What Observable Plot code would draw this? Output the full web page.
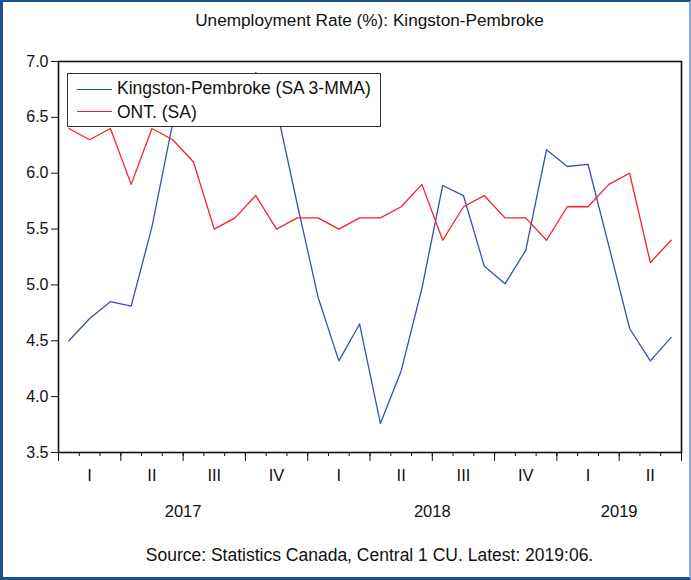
<!DOCTYPE html>
<html>
<head>
<meta charset="utf-8">
<script src="https://cdn.jsdelivr.net/npm/d3@7"></script>
<script src="https://cdn.jsdelivr.net/npm/@observablehq/plot@0.6"></script>
<style>
  html, body { margin: 0; padding: 0; background: #fff; }
  #wrap { position: relative; width: 691px; height: 580px; overflow: hidden; font-family: "Liberation Sans", Arial, sans-serif; color: #111; }
  #chart { position: absolute; left: 0; top: 0; }
  #border { position: absolute; left: 0; top: 0; width: 691px; height: 580px; box-sizing: border-box;
    border-left: 3px solid #1f4e8f; border-top: 2px solid #1f4e8f; border-bottom: 3px solid #1f4e8f; border-right: 2px solid #8fa9d0; pointer-events: none; }
  .title { position: absolute; left: 58px; width: 623px; text-align: center; font-size: 17.2px; line-height: 20px; white-space: nowrap; }
  #legend { position: absolute; left: 67px; top: 73px; width: 314px; height: 54px; box-sizing: border-box; border: 1.5px solid #333; background: #fff; }
  .sw { position: absolute; left: 9px; width: 35px; height: 0; border-top: 1.3px solid; }
  .lt { position: absolute; left: 49px; font-size: 17.5px; line-height: 20px; white-space: nowrap; }
</style>
</head>
<body>
<div id="wrap">
  <div id="chart"></div>
  <div class="title" id="title" style="top:10px"></div>
  <div class="title" id="caption" style="top:545px; font-size:17.5px"></div>
  <div id="legend"></div>
  <div id="border"></div>
</div>
<script>
const titleText = "Unemployment Rate (%): Kingston-Pembroke";
const captionText = "Source: Statistics Canada, Central 1 CU. Latest: 2019:06.";
const seriesNames = ["Kingston-Pembroke (SA 3-MMA)", "ONT. (SA)"];
const seriesColors = ["#3553ad", "#f5222a"];

const months = ["2017-01","2017-02","2017-03","2017-04","2017-05","2017-06","2017-07","2017-08","2017-09","2017-10","2017-11","2017-12",
                "2018-01","2018-02","2018-03","2018-04","2018-05","2018-06","2018-07","2018-08","2018-09","2018-10","2018-11","2018-12",
                "2019-01","2019-02","2019-03","2019-04","2019-05","2019-06"];
const kingston = [4.50, 4.70, 4.85, 4.81, 5.52, 6.45, 6.60, 6.70, 6.60, 6.90, 6.58, 5.72,
                  4.89, 4.32, 4.65, 3.76, 4.23, 4.97, 5.89, 5.80, 5.17, 5.01, 5.31, 6.21,
                  6.06, 6.08, 5.35, 4.61, 4.32, 4.53];
const ontario = [6.4, 6.3, 6.4, 5.9, 6.4, 6.3, 6.1, 5.5, 5.6, 5.8, 5.5, 5.6,
                 5.6, 5.5, 5.6, 5.6, 5.7, 5.9, 5.4, 5.7, 5.8, 5.6, 5.6, 5.4,
                 5.7, 5.7, 5.9, 6.0, 5.2, 5.4];
const yTicks = [3.5, 4.0, 4.5, 5.0, 5.5, 6.0, 6.5, 7.0];
const quarterLabels = ["I","II","III","IV","I","II","III","IV","I","II"];
const yearLabels = ["2017","2018","2019"];

const monthEdges = d3.range(months.length + 1);
const quarterEdges = monthEdges.filter(d => d % 3 === 0);
const quarterCenters = quarterLabels.map((q, i) => i * 3 + 1.5);
// year centres: middle of the months belonging to each year
const yearCenters = yearLabels.map(y => {
  const idx = months.map((m, i) => m.startsWith(y) ? i : -1).filter(i => i >= 0);
  return (idx[0] + idx[idx.length - 1] + 1) / 2;
});

const rows = months.flatMap((m, i) => [
  {i, series: seriesNames[0], value: kingston[i]},
  {i, series: seriesNames[1], value: ontario[i]}
]);

const chart = Plot.plot({
  width: 691,
  height: 580,
  marginLeft: 58,
  marginRight: 10,
  marginTop: 61,
  marginBottom: 128,
  style: {fontFamily: "'Liberation Sans', Arial, sans-serif", fontSize: "16px", color: "#111", background: "transparent"},
  x: {domain: [0, months.length]},
  y: {domain: [3.5, 7.0]},
  color: {domain: seriesNames, range: seriesColors},
  marks: [
    Plot.axisY({ticks: yTicks, tickFormat: d => d.toFixed(1), tickSize: 7, tickPadding: 3, label: null, stroke: "#111"}),
    Plot.axisX({ticks: monthEdges, tickSize: 4, tickFormat: () => "", label: null, stroke: "#111"}),
    Plot.axisX({ticks: quarterEdges, tickSize: 9, tickFormat: () => "", label: null, stroke: "#111"}),
    Plot.axisX({ticks: quarterCenters, tickSize: 0, tickPadding: 17, fontSize: 16.5,
      tickFormat: d => quarterLabels[Math.floor(d / 3)], label: null}),
    Plot.axisX({ticks: yearCenters, tickSize: 0, tickPadding: 53, fontSize: 16.5,
      tickFormat: d => yearLabels[yearCenters.indexOf(d)], label: null}),
    Plot.line(rows, {x: d => d.i + 0.5, y: "value", z: "series", stroke: "series", strokeWidth: 1.3}),
    Plot.frame({stroke: "#111", strokeWidth: 1.6})
  ]
});
document.getElementById("chart").appendChild(chart);
document.getElementById("title").textContent = titleText;
document.getElementById("caption").textContent = captionText;

const legend = document.getElementById("legend");
const rowTops = [4, 28];
const swTops = [15, 37];
seriesNames.forEach((name, k) => {
  const sw = document.createElement("div");
  sw.className = "sw";
  sw.style.top = swTops[k] + "px";
  sw.style.borderTopColor = seriesColors[k];
  legend.appendChild(sw);
  const t = document.createElement("div");
  t.className = "lt";
  t.style.top = rowTops[k] + "px";
  t.textContent = name;
  legend.appendChild(t);
});
</script>
</body>
</html>
